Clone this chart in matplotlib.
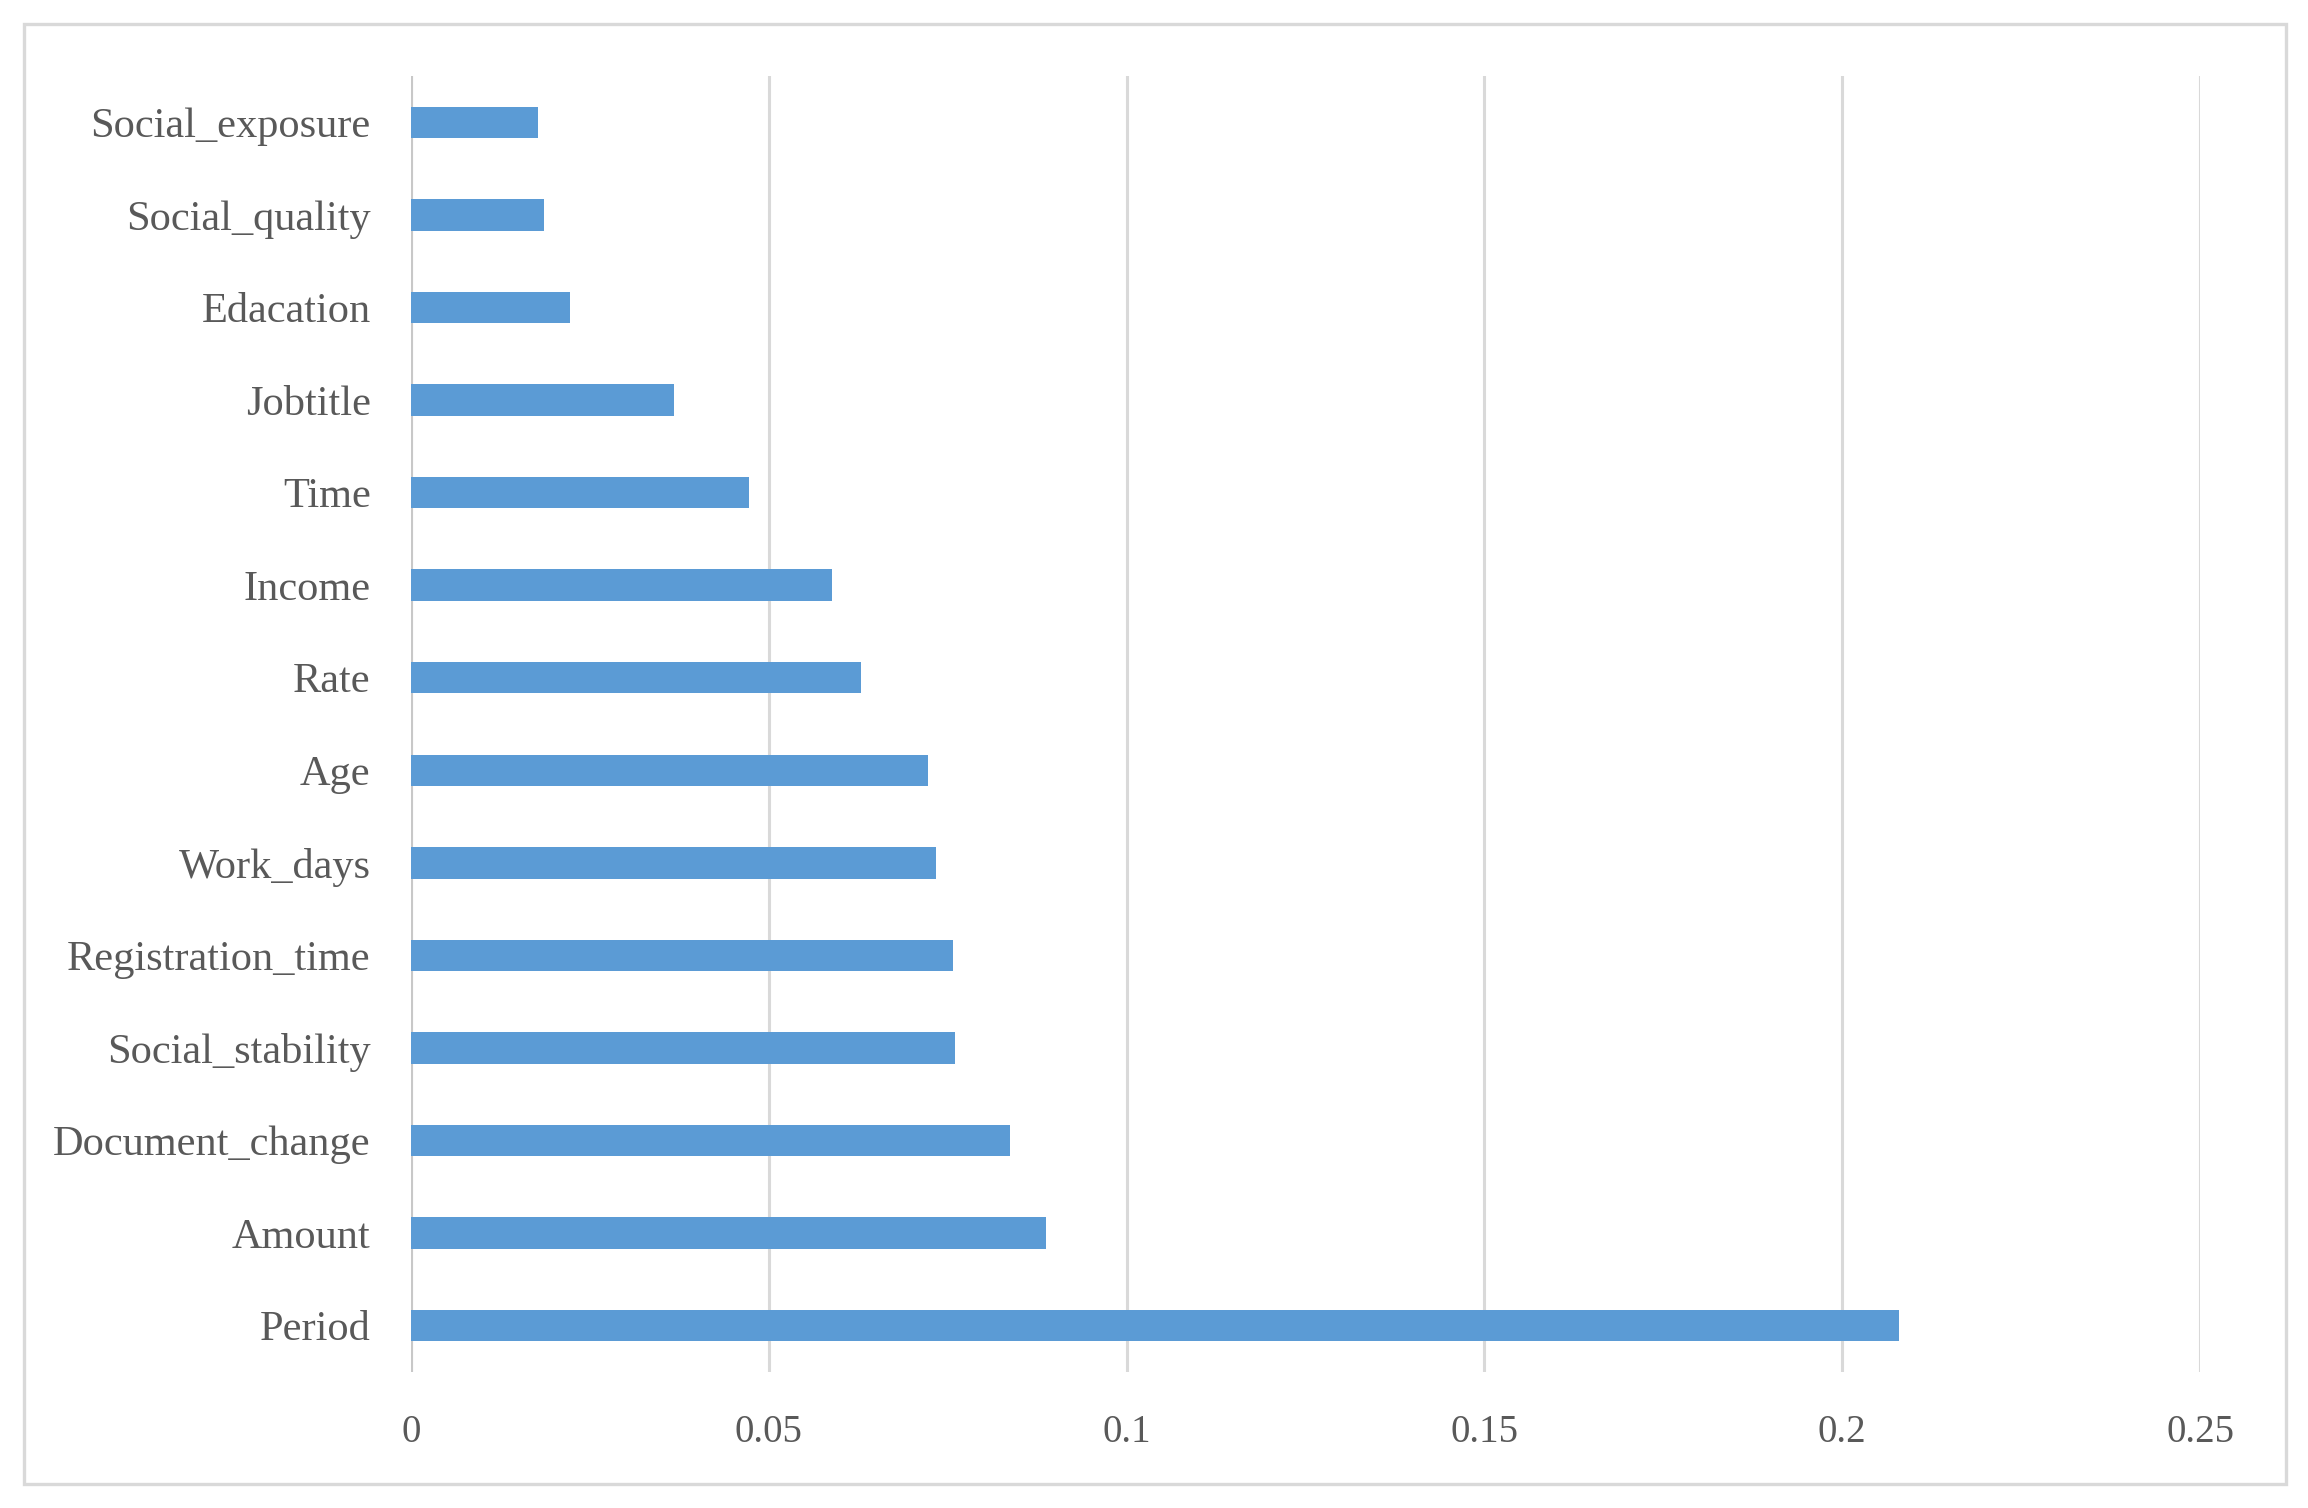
import matplotlib
matplotlib.use("Agg")
import matplotlib.pyplot as plt
from matplotlib.patches import Rectangle

categories = ["Social_exposure", "Social_quality", "Edacation", "Jobtitle", "Time",
              "Income", "Rate", "Age", "Work_days", "Registration_time",
              "Social_stability", "Document_change", "Amount", "Period"]
values = [0.0177, 0.0186, 0.0222, 0.0367, 0.0473, 0.0588, 0.0629, 0.0722,
          0.0734, 0.0757, 0.0760, 0.0837, 0.0888, 0.2080]
xticks = [0, 0.05, 0.1, 0.15, 0.2, 0.25]
xtick_labels = ["0", "0.05", "0.1", "0.15", "0.2", "0.25"]

W, H = 2308, 1508
dpi = 100
fig = plt.figure(figsize=(W / dpi, H / dpi), dpi=dpi)
fig.patch.set_facecolor("white")

plt.rcParams['font.family'] = ['Liberation Serif', 'DejaVu Serif']

# outer border
fig.patches.append(Rectangle((23.5 / W, 1 - 1484 / H), (2286 - 23.5) / W, (1484 - 23.5) / H,
                             transform=fig.transFigure, fill=False,
                             edgecolor="#d9d9d9", linewidth=2.4, zorder=0))

ax = fig.add_axes([411 / W, 1 - 1372 / H, (2200 - 411) / W, (1372 - 76) / H])
ypos = list(range(len(categories)))
ax.barh(ypos, values, height=0.34, color="#5B9BD5", zorder=3)
ax.set_yticks(ypos)
ax.set_yticklabels(categories)
ax.set_ylim(len(categories) - 0.5, -0.5)
ax.set_xlim(0, 0.25)
ax.set_xticks(xticks)
ax.set_xticklabels(xtick_labels)

for s in ax.spines.values():
    s.set_visible(False)
ax.tick_params(axis="both", length=0, colors="#595959")
ax.tick_params(axis="y", pad=29, labelsize=30.5)
ax.tick_params(axis="x", pad=30, labelsize=28)
ax.xaxis.grid(True, color="#d9d9d9", linewidth=2.2, zorder=0)
ax.axvline(0, color="#c8c8c8", linewidth=2.2, zorder=1)
ax.set_axisbelow(True)

fig.savefig("out.png", dpi=dpi, facecolor="white")
